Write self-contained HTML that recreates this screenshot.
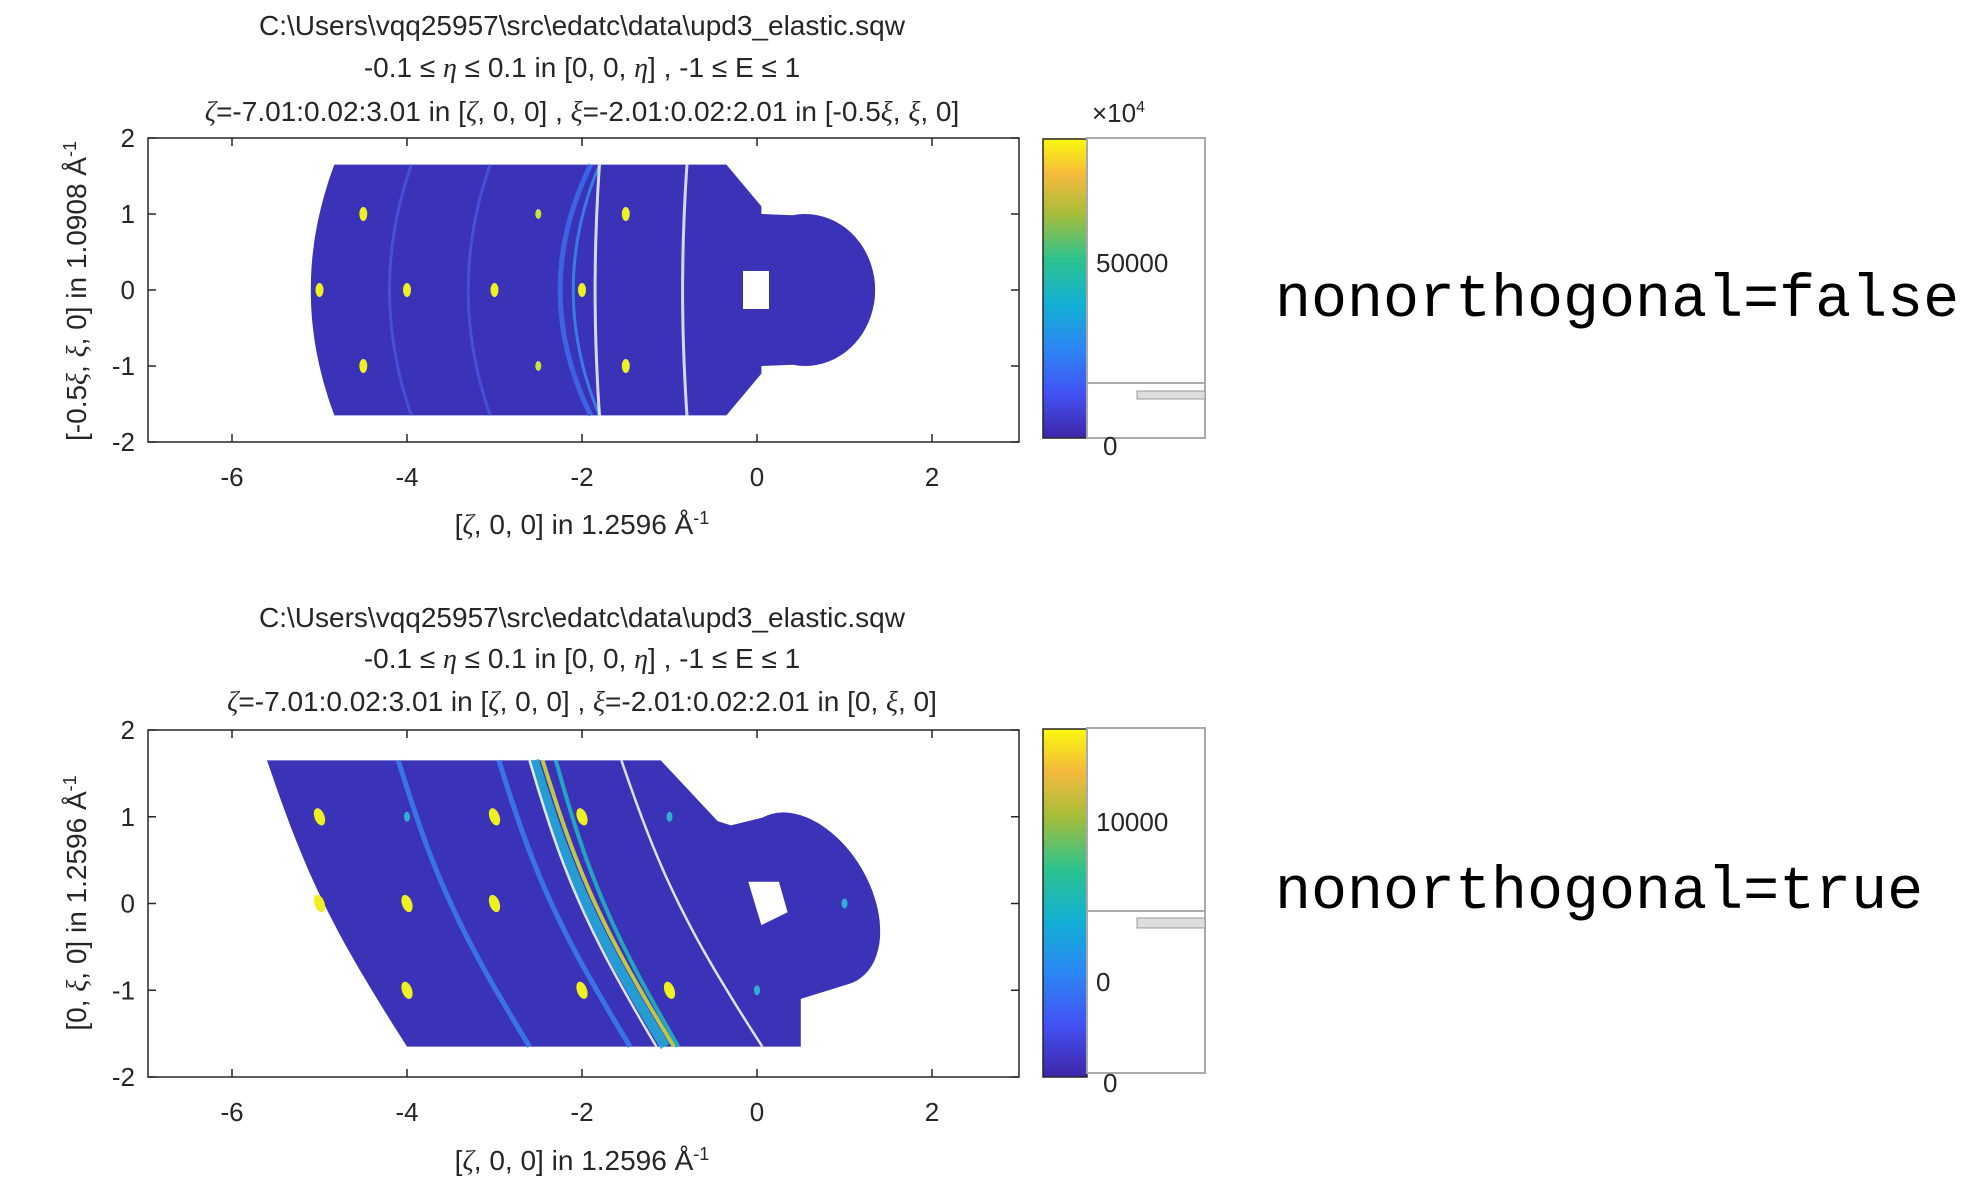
<!DOCTYPE html>
<html><head><meta charset="utf-8"><style>
html,body{margin:0;padding:0;background:#fff;width:1975px;height:1188px;overflow:hidden}
svg{display:block}
.t{font-family:"Liberation Sans",sans-serif;font-size:28px;fill:#262626}
.tk{font-family:"Liberation Sans",sans-serif;font-size:26px;fill:#262626}
.big{font-family:"Liberation Mono",monospace;font-size:60px;fill:#000}
</style></head><body>
<svg id="s" width="1975" height="1188" xmlns="http://www.w3.org/2000/svg">
<defs>
<linearGradient id="pg" x1="0" y1="1" x2="0" y2="0">
<stop offset="0" stop-color="#3e26a8"/><stop offset="0.15" stop-color="#4352f4"/><stop offset="0.3" stop-color="#2c87f3"/><stop offset="0.45" stop-color="#12b1d4"/><stop offset="0.6" stop-color="#2ec38c"/><stop offset="0.75" stop-color="#a8bd3a"/><stop offset="0.88" stop-color="#f5ba3c"/><stop offset="1" stop-color="#f9f90e"/>
</linearGradient>
</defs>
<g id="plots"></g>
<text class="t" x="582" y="35" text-anchor="middle">C:\Users\vqq25957\src\edatc\data\upd3_elastic.sqw</text>
<text class="t" x="582" y="77" text-anchor="middle">-0.1 ≤ <tspan font-style="italic" font-family="Liberation Serif">η</tspan> ≤ 0.1 in [0, 0, <tspan font-style="italic" font-family="Liberation Serif">η</tspan>] , -1 ≤ E ≤ 1</text>
<text class="t" x="582" y="121" text-anchor="middle"><tspan font-style="italic" font-family="Liberation Serif">ζ</tspan>=-7.01:0.02:3.01 in [<tspan font-style="italic" font-family="Liberation Serif">ζ</tspan>, 0, 0] , <tspan font-style="italic" font-family="Liberation Serif">ξ</tspan>=-2.01:0.02:2.01 in [-0.5<tspan font-style="italic" font-family="Liberation Serif">ξ</tspan>, <tspan font-style="italic" font-family="Liberation Serif">ξ</tspan>, 0]</text>
<text class="t" x="582" y="534" text-anchor="middle">[<tspan font-style="italic" font-family="Liberation Serif">ζ</tspan>, 0, 0] in 1.2596 Å<tspan dy="-10" font-size="18">-1</tspan></text>
<text class="t" transform="translate(86,291) rotate(-90)" text-anchor="middle">[-0.5<tspan font-style="italic" font-family="Liberation Serif">ξ</tspan>, <tspan font-style="italic" font-family="Liberation Serif">ξ</tspan>, 0] in 1.0908 Å<tspan dy="-10" font-size="18">-1</tspan></text>
<text class="t" x="582" y="627" text-anchor="middle">C:\Users\vqq25957\src\edatc\data\upd3_elastic.sqw</text>
<text class="t" x="582" y="668" text-anchor="middle">-0.1 ≤ <tspan font-style="italic" font-family="Liberation Serif">η</tspan> ≤ 0.1 in [0, 0, <tspan font-style="italic" font-family="Liberation Serif">η</tspan>] , -1 ≤ E ≤ 1</text>
<text class="t" x="582" y="711" text-anchor="middle"><tspan font-style="italic" font-family="Liberation Serif">ζ</tspan>=-7.01:0.02:3.01 in [<tspan font-style="italic" font-family="Liberation Serif">ζ</tspan>, 0, 0] , <tspan font-style="italic" font-family="Liberation Serif">ξ</tspan>=-2.01:0.02:2.01 in [0, <tspan font-style="italic" font-family="Liberation Serif">ξ</tspan>, 0]</text>
<text class="t" x="582" y="1170" text-anchor="middle">[<tspan font-style="italic" font-family="Liberation Serif">ζ</tspan>, 0, 0] in 1.2596 Å<tspan dy="-10" font-size="18">-1</tspan></text>
<text class="t" transform="translate(86,903) rotate(-90)" text-anchor="middle">[0, <tspan font-style="italic" font-family="Liberation Serif">ξ</tspan>, 0] in 1.2596 Å<tspan dy="-10" font-size="18">-1</tspan></text>
<rect x="1043" y="139" width="44" height="299" fill="url(#pg)" stroke="#262626" stroke-width="1.5"/>
<rect x="1087" y="138" width="118" height="300" fill="#fff" stroke="#aaa" stroke-width="2"/>
<line x1="1087" y1="383" x2="1205" y2="383" stroke="#aaa" stroke-width="2"/>
<rect x="1137" y="391" width="68" height="8" fill="#ddd" stroke="#999"/>
<text class="tk" x="1092" y="122" font-size="22" fill="#888">×10<tspan dy="-10" font-size="16">4</tspan></text>
<text class="tk" x="1096" y="272">50000</text>
<text class="tk" x="1103" y="455" fill="#666">0</text>
<rect x="1043" y="729" width="44" height="348" fill="url(#pg)" stroke="#262626" stroke-width="1.5"/>
<rect x="1087" y="728" width="118" height="345" fill="#fff" stroke="#aaa" stroke-width="2"/>
<line x1="1087" y1="911" x2="1205" y2="911" stroke="#aaa" stroke-width="2"/>
<rect x="1137" y="918" width="68" height="10" fill="#ddd" stroke="#999"/>
<text class="tk" x="1096" y="831">10000</text>
<text class="tk" x="1096" y="991">0</text>
<text class="tk" x="1103" y="1092" fill="#666">0</text>
<text class="big" x="1275" y="316">nonorthogonal=false</text>
<text class="big" x="1275" y="908">nonorthogonal=true</text>
</svg>
<script>
var NS="http://www.w3.org/2000/svg",G=document.getElementById("plots");
function el(t,a){var e=document.createElementNS(NS,t);for(var k in a)e.setAttribute(k,a[k]);G.appendChild(e);return e;}
function txt(x,y,s,anc){var e=el("text",{x:x,y:y,"class":"tk","text-anchor":anc});e.textContent=s;}
var BLUE="#3a33b8";
function axes(top,bot,cy,sy){
  var L=148,R=1019;
  for(var v=-6;v<=2;v+=2){var px=757+87.5*v;el("line",{x1:px,y1:bot,x2:px,y2:bot-8,stroke:"#262626","stroke-width":1.5});el("line",{x1:px,y1:top,x2:px,y2:top+8,stroke:"#262626","stroke-width":1.5});txt(px,bot+44,String(v),"middle");}
  for(var w=-2;w<=2;w++){var py=cy-sy*w;el("line",{x1:L,y1:py,x2:L+8,y2:py,stroke:"#262626","stroke-width":1.5});el("line",{x1:R,y1:py,x2:R-8,y2:py,stroke:"#262626","stroke-width":1.5});txt(135,py+9,String(w),"end");}
  el("rect",{x:L,y:top,width:R-L,height:bot-top,fill:"none",stroke:"#262626","stroke-width":1.5});
}
function P(cy,sy){return function(x,y){return (757+87.5*x).toFixed(1)+","+(cy-sy*y).toFixed(1);};}
(function(){
 var cy=290,sy=76,p=P(cy,sy),pts=[];
 for(var y=-1.65;y<=1.651;y+=0.11){pts.push(p(-5.1+0.27*(y*y)/2.7225,y));}
 pts.reverse();
 var d="M"+p(-4.85,1.65)+" L"+p(-0.35,1.65)+" L"+p(0.05,1.1)+" L"+p(0.05,1.0);
 for(var a=100;a>=-100;a-=5){var r=a*Math.PI/180;d+=" L"+p(0.55+0.8*Math.cos(r),1.0*Math.sin(r));}
 d+=" L"+p(0.05,-1.0)+" L"+p(0.05,-1.1)+" L"+p(-0.35,-1.65)+" L"+p(-4.85,-1.65);
 for(var i=pts.length-1;i>=0;i--)d+=" L"+pts[i];
 el("path",{d:d+"Z",fill:BLUE});
 el("rect",{x:757-14,y:cy-19,width:26,height:38,fill:"#fff"});
 function arc(x0,bend,col,w){var s="";for(var y=-1.65;y<=1.651;y+=0.11){s+=(s?" L":"M")+p(x0+bend*(y*y)/2.7225,y);}el("path",{d:s,fill:"none",stroke:col,"stroke-width":w,opacity:0.8});}
 arc(-2.25,0.35,"#3f6ff0",5);arc(-3.3,0.25,"#4a56e0",3);arc(-4.2,0.25,"#4a56e0",3);arc(-2.1,0.3,"#3a8ff0",3);
 arc(-1.85,0.05,"#fff",3);arc(-0.85,0.05,"#fff",3);
 [[-4.5,1],[-4.5,-1],[-4,0],[-5,0],[-3,0],[-2,0],[-1.5,1],[-1.5,-1]].forEach(function(s){var q=p(s[0],s[1]).split(",");el("ellipse",{cx:q[0],cy:q[1],rx:4,ry:7,fill:"#eef020"});});
 [[-2.5,1],[-2.5,-1]].forEach(function(s){var q=p(s[0],s[1]).split(",");el("ellipse",{cx:q[0],cy:q[1],rx:3,ry:5,fill:"#c8e040"});});
 axes(138,442,cy,sy);
})();
(function(){
 var cy=903.5,sy=86.75,p=P(cy,sy);
 function lx(y){var t=(1.65-y)/3.3;return -5.6+1.6*t-0.15*Math.sin(Math.PI*t);}
 var d="M"+p(-5.6,1.65)+" L"+p(-1.1,1.65)+" L"+p(-0.45,0.95)+" L"+p(-0.3,0.9);
 for(var a=110;a>=-80;a-=5){var r=a*Math.PI/180;var ex=0.75*Math.cos(r),ey=1.0*Math.sin(r);d+=" L"+p(0.6+ex-0.3*ey,0.05+ey);}
 d+=" L"+p(0.5,-1.1)+" L"+p(0.5,-1.65)+" L"+p(-4.0,-1.65);
 for(var y=-1.65;y<=1.651;y+=0.11)d+=" L"+p(lx(y),y);
 el("path",{d:d+"Z",fill:BLUE});
 el("path",{d:"M"+p(-0.1,0.25)+" L"+p(0.25,0.25)+" L"+p(0.35,-0.1)+" L"+p(0.05,-0.25)+" Z",fill:"#fff"});
 function band(o1,o2,col,w){var s="";for(var y=-1.65;y<=1.651;y+=0.11){var t=(1.65-y)/3.3;s+=(s?" L":"M")+p(lx(y)+o1+(o2-o1)*t,y);}el("path",{d:s,fill:"none",stroke:col,"stroke-width":w,opacity:0.85});}
 band(1.5,1.4,"#3a7ff0",5);band(2.65,2.55,"#3a7ff0",5);band(3.05,2.95,"#22b0d8",10);band(3.15,3.05,"#d8e030",4);band(3.3,3.1,"#20b8c0",4);
 band(3.0,2.85,"#fff",2.5);band(4.05,4.06,"#fff",2.5);
 [[-5,1],[-5,0],[-4,0],[-4,-1],[-3,1],[-3,0],[-2,1],[-2,-1],[-1,-1]].forEach(function(s){var q=p(s[0],s[1]).split(",");el("ellipse",{cx:q[0],cy:q[1],rx:5,ry:9,fill:"#eef020",transform:"rotate(-20 "+q[0]+" "+q[1]+")"});});
 [[-1,1],[0,-1],[1,0],[-4,1]].forEach(function(s){var q=p(s[0],s[1]).split(",");el("ellipse",{cx:q[0],cy:q[1],rx:3,ry:5,fill:"#30b0d0"});});
 axes(730,1077,cy,sy);
})();
</script>
</body></html>
